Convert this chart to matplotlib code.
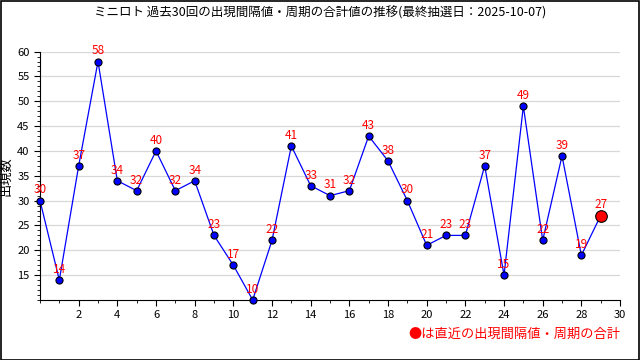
import matplotlib
matplotlib.use("Agg")
import matplotlib.pyplot as plt
from matplotlib.ticker import MultipleLocator

plt.rcParams['font.family'] = ['Noto Sans CJK JP', 'DejaVu Sans']

x = list(range(30))
vals = [30, 14, 37, 58, 34, 32, 40, 32, 34, 23, 17, 10, 22, 41, 33, 31, 32, 43, 38, 30,
        21, 23, 23, 37, 15, 49, 22, 39, 19, 27]
title = "ミニロト 過去30回の出現間隔値・周期の合計値の推移(最終抽選日：2025-10-07)"
note = "●は直近の出現間隔値・周期の合計"

fig = plt.figure(figsize=(6.4, 3.6), dpi=100)
ax = fig.add_axes([0.0625, 0.1667, 0.9063, 0.69])

ax.plot(x, vals, color='blue', lw=0.9, zorder=2, clip_on=False)
ax.scatter(x[:-1], vals[:-1], s=26, color='blue', edgecolors='black', linewidths=0.8, zorder=3, clip_on=False)
ax.scatter(x[-1:], vals[-1:], s=70, color='red', edgecolors='black', linewidths=0.8, zorder=3, clip_on=False)
for xi, v in zip(x, vals):
    ax.annotate(str(v), (xi, v), xytext=(0, 3), textcoords='offset points',
                ha='center', va='bottom', color='red', fontsize=8.5, zorder=4)

ax.set_xlim(0, 30)
ax.set_ylim(10, 60)
ax.xaxis.set_minor_locator(MultipleLocator(1))
ax.yaxis.set_minor_locator(MultipleLocator(1))
ax.set_xticks(range(2, 31, 2))
ax.set_yticks(range(15, 61, 5))
ax.tick_params(labelsize=8, length=4, direction='out')
ax.tick_params(which='minor', length=2)
ax.grid(axis='y', color='#d8d8d8', lw=0.9, zorder=0)
ax.spines['top'].set_visible(False)
ax.spines['right'].set_visible(False)
ax.set_ylabel("出現数", fontsize=9.5)
ax.yaxis.set_label_coords(-0.048, 0.5)

fig.text(0.5, 0.965, title, ha='center', va='center', fontsize=9)
fig.text(0.97, 0.07, note, ha='right', va='center', fontsize=9.5, color='red')
fig.patches.append(plt.Rectangle((0.001, 0.001), 0.997, 0.996, transform=fig.transFigure,
                                 fill=False, edgecolor='black', lw=1.2))

fig.savefig("out.png", dpi=100)
